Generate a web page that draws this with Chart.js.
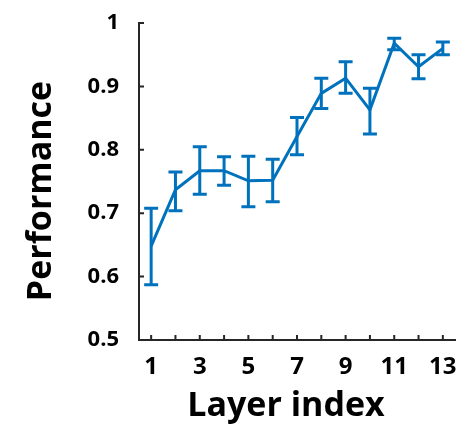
<!DOCTYPE html>
<html>
<head>
<meta charset="utf-8">
<script src="https://cdn.jsdelivr.net/npm/chart.js@4/dist/chart.umd.min.js"></script>
<style>
html,body{margin:0;padding:0;background:#fff;}
#wrap{width:460px;height:424px;}
</style>
</head>
<body>
<div id="wrap"><canvas id="c" width="460" height="424"></canvas></div>
<script>
// ---- data ----
const layers = [1,2,3,4,5,6,7,8,9,10,11,12,13];
const performance = [0.648,0.737,0.767,0.767,0.751,0.752,0.821,0.889,0.913,0.863,0.968,0.931,0.960];
const upperBound = [0.708,0.765,0.805,0.789,0.790,0.785,0.851,0.913,0.939,0.897,0.976,0.950,0.970];
const lowerBound = [0.587,0.704,0.730,0.744,0.710,0.718,0.792,0.865,0.889,0.825,0.958,0.912,0.950];
const xTickValues = [1,2,3,4,5,6,7,8,9,10,11,12,13];
const xTickLabels = ['1','','3','','5','','7','','9','','11','','13'];
const yTickValues = [0.5,0.6,0.7,0.8,0.9,1.0];
const yTickLabels = ['0.5','0.6','0.7','0.8','0.9','1'];
const xTitle = 'Layer index';
const yTitle = 'Performance';

const BLUE = '#0072BD';
const AXIS = '#262626';
const FONT = 'Open Sans';

const errorBarPlugin = {
  id: 'errorBars',
  afterDatasetsDraw(chart) {
    const ctx = chart.ctx, xs = chart.scales.x, ys = chart.scales.y;
    ctx.save();
    ctx.strokeStyle = BLUE;
    ctx.lineWidth = 3;
    ctx.lineCap = 'butt';
    const half = 7;
    layers.forEach((l, i) => {
      const x = xs.getPixelForValue(l);
      const yt = ys.getPixelForValue(upperBound[i]);
      const yb = ys.getPixelForValue(lowerBound[i]);
      ctx.beginPath();
      ctx.moveTo(x, yt); ctx.lineTo(x, yb);
      ctx.moveTo(x - half, yt); ctx.lineTo(x + half, yt);
      ctx.moveTo(x - half, yb); ctx.lineTo(x + half, yb);
      ctx.stroke();
    });
    ctx.restore();
  }
};

const axesPlugin = {
  id: 'innerTicks',
  afterDraw(chart) {
    const ctx = chart.ctx, xs = chart.scales.x, ys = chart.scales.y;
    const a = chart.chartArea;
    ctx.save();
    ctx.strokeStyle = AXIS;
    ctx.lineWidth = 2;
    ctx.beginPath();
    xTickValues.forEach(v => {
      const x = xs.getPixelForValue(v);
      ctx.moveTo(x, a.bottom); ctx.lineTo(x, a.bottom - 5);
    });
    yTickValues.forEach(v => {
      const y = ys.getPixelForValue(v);
      ctx.moveTo(a.left, y); ctx.lineTo(a.left + 5, y);
    });
    ctx.stroke();
    // titles
    ctx.fillStyle = '#000';
    ctx.font = 'bold 34px "' + FONT + '"';
    ctx.textAlign = 'center';
    ctx.textBaseline = 'alphabetic';
    ctx.fillText(xTitle, 286, 416);
    ctx.translate(51, 191);
    ctx.rotate(-Math.PI / 2);
    ctx.fillText(yTitle, 0, 0);
    ctx.restore();
  }
};

new Chart(document.getElementById('c'), {
  type: 'line',
  data: {
    datasets: [{
      data: layers.map((l, i) => ({x: l, y: performance[i]})),
      borderColor: BLUE,
      borderWidth: 3,
      pointRadius: 0,
      tension: 0,
      fill: false
    }]
  },
  options: {
    responsive: false,
    animation: false,
    devicePixelRatio: 1,
    layout: {padding: {top: 23, right: 5, left: 0, bottom: 0}},
    plugins: {legend: {display: false}, tooltip: {enabled: false}},
    scales: {
      x: {
        type: 'linear',
        min: 0.5, max: 13.5,
        afterBuildTicks(s) { s.ticks = xTickValues.map(v => ({value: v})); },
        afterFit(s) { s.height = 84; s.paddingLeft = 0; s.paddingRight = 0; },
        grid: {display: false, drawTicks: false},
        border: {display: true, color: AXIS, width: 2},
        ticks: {
          autoSkip: false, maxRotation: 0,
          padding: 13,
          color: '#000',
          font: {family: FONT, size: 24, weight: 'bold'},
          callback(v, i) { return xTickLabels[xTickValues.indexOf(v)] ?? ''; }
        }
      },
      y: {
        type: 'linear',
        min: 0.5, max: 1.0,
        afterBuildTicks(s) { s.ticks = yTickValues.map(v => ({value: v})); },
        afterFit(s) { s.width = 139; s.paddingTop = 0; s.paddingBottom = 0; },
        grid: {display: false, drawTicks: false},
        border: {display: true, color: AXIS, width: 2},
        ticks: {
          autoSkip: false,
          padding: 20,
          color: '#000',
          font: {family: FONT, size: 22, weight: 'bold'},
          callback(v) { const k = yTickValues.findIndex(t => Math.abs(t - v) < 1e-9); return k >= 0 ? yTickLabels[k] : ''; }
        }
      }
    }
  },
  plugins: [errorBarPlugin, axesPlugin]
});
</script>
</body>
</html>
